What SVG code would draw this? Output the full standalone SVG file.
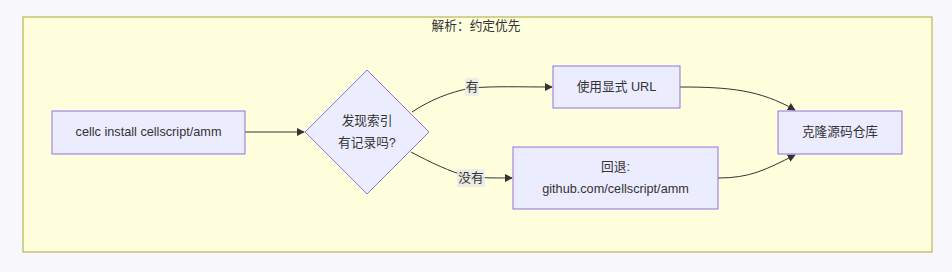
<svg xmlns="http://www.w3.org/2000/svg" width="952" height="272" viewBox="0 0 952 272">
<defs>
<marker id="arr" viewBox="0 0 10 10" refX="9" refY="5" markerWidth="8" markerHeight="8" markerUnits="userSpaceOnUse" orient="auto">
<path d="M0,0 L10,5 L0,10 z" fill="#333"/>
</marker>
<style>
.t{font-family:"Liberation Sans","Noto Sans CJK SC",sans-serif;font-size:12.7px;fill:#333;text-anchor:middle;dominant-baseline:central}
.n{fill:#ECECFF;stroke:#9370DB;stroke-width:1}
.e{fill:none;stroke:#333;stroke-width:1}
.lb{fill:#e8e8e8;fill-opacity:0.8}
</style>
</defs>
<rect width="952" height="272" fill="#f8f8fc"/>
<g id="cluster">
<rect x="23" y="17" width="909" height="235" fill="#ffffde" stroke="#aaaa33"/>
<text class="t" x="476" y="26">解析：约定优先</text>
</g>
<g id="connectors">
<path class="e" d="M412,112 C430,100 450,92 471,88 C495,86 520,87 552,87" marker-end="url(#arr)"/>
<path class="e" d="M245,132 L304,132" marker-end="url(#arr)"/>
<path class="e" d="M411,152 C430,162 450,172 470,177 C485,178 500,178 512,178" marker-end="url(#arr)"/>
<path class="e" d="M680,87 C730,87 760,90 795,110" marker-end="url(#arr)"/>
<path class="e" d="M718,178 C750,178 765,170 795,155" marker-end="url(#arr)"/>
<rect class="lb" x="465" y="78" width="14" height="18"/>
<text class="t" x="472" y="87">有</text>
<rect class="lb" x="457" y="169" width="28" height="18"/>
<text class="t" x="471" y="178">没有</text>
</g>
<g id="start">
<rect class="n" x="52" y="111" width="193" height="43"/>
<text class="t" x="148.5" y="132">cellc install cellscript/amm</text>
</g>
<g id="decision">
<polygon class="n" points="367,70 429,132 367,194 305,132"/>
<text class="t" x="367" y="121">发现索引</text>
<text class="t" x="367" y="143">有记录吗?</text>
</g>
<g id="explicit">
<rect class="n" x="553" y="66" width="127" height="42"/>
<text class="t" x="616.5" y="87">使用显式 URL</text>
</g>
<g id="fallback">
<rect class="n" x="513" y="147" width="205" height="62"/>
<text class="t" x="615.5" y="167">回退:</text>
<text class="t" x="615.5" y="189">github.com/cellscript/amm</text>
</g>
<g id="clone">
<rect class="n" x="778" y="111" width="124" height="43"/>
<text class="t" x="840" y="132">克隆源码仓库</text>
</g>
</svg>
